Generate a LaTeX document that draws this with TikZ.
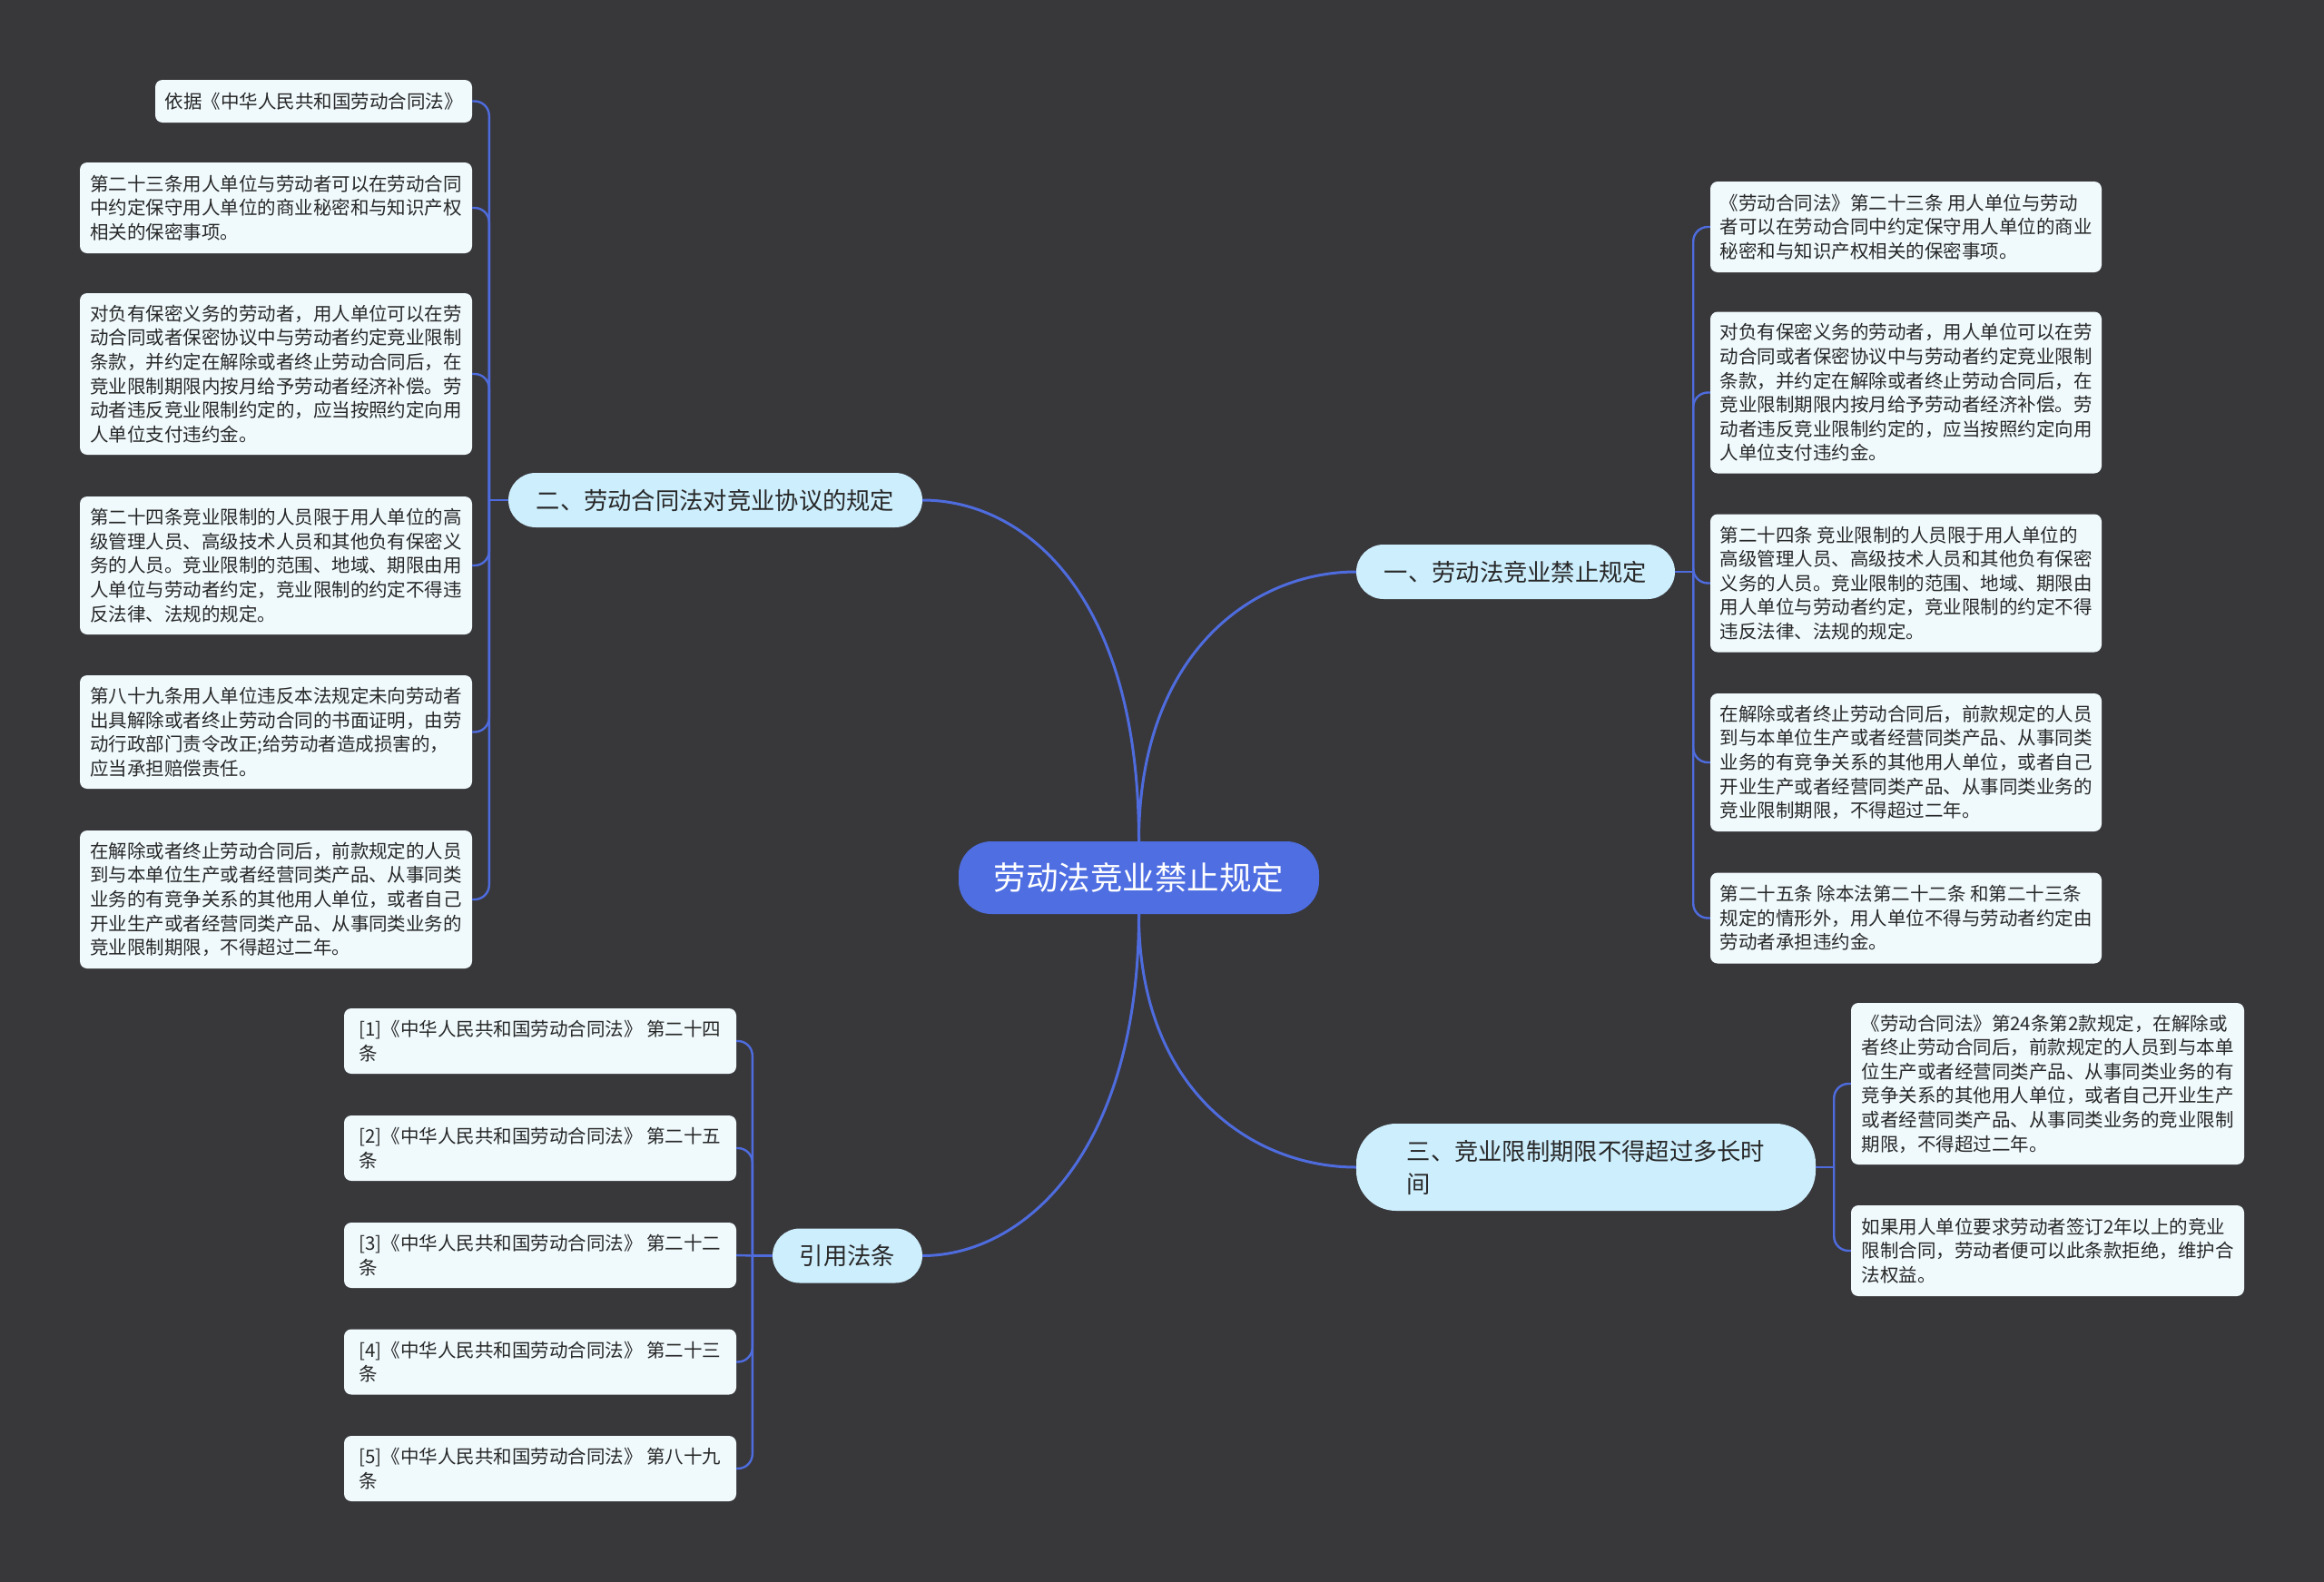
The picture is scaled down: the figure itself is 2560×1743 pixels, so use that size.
\documentclass[tikz,border=0pt]{standalone}
\usepackage{fontspec}
\newfontfamily\cjk{Noto Sans CJK SC}
\definecolor{bgc}{RGB}{56,55,58}
\definecolor{linec}{RGB}{78,108,222}
\definecolor{rootc}{RGB}{78,110,226}
\definecolor{branchc}{RGB}{205,238,253}
\definecolor{leafc}{RGB}{240,250,253}
\definecolor{txt}{RGB}{40,40,40}
\tikzset{
  leafbox/.style={rectangle, rounded corners=8pt, fill=leafc, text=txt, align=left, inner sep=0pt,
    font=\cjk\fontsize{20.5pt}{26.6pt}\selectfont},
  branchbox/.style={rectangle, rounded corners=30pt, fill=branchc, text=txt, align=left, inner sep=0pt,
    font=\cjk\fontsize{26.3pt}{36pt}\selectfont},
  rootbox/.style={rectangle, rounded corners=36pt, fill=rootc, text=white, align=center, inner sep=0pt,
    font=\cjk\fontsize{35.5pt}{42pt}\selectfont},
  mainconn/.style={draw=linec, line width=3pt},
  leafconn/.style={draw=linec, line width=2.4pt},
  bendconn/.style={leafconn, rounded corners=16pt}
}
\begin{document}
\begin{tikzpicture}[x=1pt,y=-1pt]
\fill[bgc] (0,0) rectangle (2560,1743);
\useasboundingbox (0,0) rectangle (2560,1743);

% root and branches
\node[rootbox, minimum width=397pt, minimum height=80pt] (root) at (1254.5,967) {劳动法竞业禁止规定};
\node[branchbox, minimum width=456pt, minimum height=60pt] (b2) at (788,551) {二、劳动合同法对竞业协议的规定};
\node[branchbox, minimum width=351pt, minimum height=60pt] (b1) at (1669.5,630) {一、劳动法竞业禁止规定};
\node[branchbox, rounded corners=44pt, minimum width=506pt, minimum height=96pt] (b3) at (1747,1286) {三、竞业限制期限不得超过多长时\\间};
\node[branchbox, minimum width=165pt, minimum height=60pt] (b4) at (933.5,1383.5) {引用法条};

% left leaves (branch 2)
\node[leafbox, minimum width=349pt, minimum height=47pt] (L1) at (345.5,111.5) {依据《中华人民共和国劳动合同法》};
\node[leafbox, minimum width=432pt, minimum height=100pt] (L2) at (304,229) {第二十三条用人单位与劳动者可以在劳动合同\\中约定保守用人单位的商业秘密和与知识产权\\相关的保密事项。};
\node[leafbox, minimum width=432pt, minimum height=178pt] (L3) at (304,412) {对负有保密义务的劳动者，用人单位可以在劳\\动合同或者保密协议中与劳动者约定竞业限制\\条款，并约定在解除或者终止劳动合同后，在\\竞业限制期限内按月给予劳动者经济补偿。劳\\动者违反竞业限制约定的，应当按照约定向用\\人单位支付违约金。};
\node[leafbox, minimum width=432pt, minimum height=152pt] (L4) at (304,623) {第二十四条竞业限制的人员限于用人单位的高\\级管理人员、高级技术人员和其他负有保密义\\务的人员。竞业限制的范围、地域、期限由用\\人单位与劳动者约定，竞业限制的约定不得违\\反法律、法规的规定。};
\node[leafbox, minimum width=432pt, minimum height=125pt] (L5) at (304,806.5) {第八十九条用人单位违反本法规定未向劳动者\\出具解除或者终止劳动合同的书面证明，由劳\\动行政部门责令改正;给劳动者造成损害的，\\应当承担赔偿责任。};
\node[leafbox, minimum width=432pt, minimum height=152pt] (L6) at (304,991) {在解除或者终止劳动合同后，前款规定的人员\\到与本单位生产或者经营同类产品、从事同类\\业务的有竞争关系的其他用人单位，或者自己\\开业生产或者经营同类产品、从事同类业务的\\竞业限制期限，不得超过二年。};

% right leaves (branch 1)
\node[leafbox, minimum width=431pt, minimum height=100pt] (R1) at (2099.5,250) {《劳动合同法》第二十三条 用人单位与劳动\\者可以在劳动合同中约定保守用人单位的商业\\秘密和与知识产权相关的保密事项。};
\node[leafbox, minimum width=431pt, minimum height=178pt] (R2) at (2099.5,432.5) {对负有保密义务的劳动者，用人单位可以在劳\\动合同或者保密协议中与劳动者约定竞业限制\\条款，并约定在解除或者终止劳动合同后，在\\竞业限制期限内按月给予劳动者经济补偿。劳\\动者违反竞业限制约定的，应当按照约定向用\\人单位支付违约金。};
\node[leafbox, minimum width=431pt, minimum height=152pt] (R3) at (2099.5,642.5) {第二十四条 竞业限制的人员限于用人单位的\\高级管理人员、高级技术人员和其他负有保密\\义务的人员。竞业限制的范围、地域、期限由\\用人单位与劳动者约定，竞业限制的约定不得\\违反法律、法规的规定。};
\node[leafbox, minimum width=431pt, minimum height=152pt] (R4) at (2099.5,840) {在解除或者终止劳动合同后，前款规定的人员\\到与本单位生产或者经营同类产品、从事同类\\业务的有竞争关系的其他用人单位，或者自己\\开业生产或者经营同类产品、从事同类业务的\\竞业限制期限，不得超过二年。};
\node[leafbox, minimum width=431pt, minimum height=100pt] (R5) at (2099.5,1011.5) {第二十五条 除本法第二十二条 和第二十三条\\规定的情形外，用人单位不得与劳动者约定由\\劳动者承担违约金。};

% branch 3 leaves
\node[leafbox, minimum width=433pt, minimum height=178pt] (T1) at (2255.5,1194) {《劳动合同法》第24条第2款规定，在解除或\\者终止劳动合同后，前款规定的人员到与本单\\位生产或者经营同类产品、从事同类业务的有\\竞争关系的其他用人单位，或者自己开业生产\\或者经营同类产品、从事同类业务的竞业限制\\期限，不得超过二年。};
\node[leafbox, minimum width=433pt, minimum height=100pt] (T2) at (2255.5,1378) {如果用人单位要求劳动者签订2年以上的竞业\\限制合同，劳动者便可以此条款拒绝，维护合\\法权益。};

% citations
\node[leafbox, minimum width=432pt, minimum height=72pt] (C1) at (595,1147) {[1]《中华人民共和国劳动合同法》 第二十四\\条};
\node[leafbox, minimum width=432pt, minimum height=72pt] (C2) at (595,1265) {[2]《中华人民共和国劳动合同法》 第二十五\\条};
\node[leafbox, minimum width=432pt, minimum height=72pt] (C3) at (595,1383) {[3]《中华人民共和国劳动合同法》 第二十二\\条};
\node[leafbox, minimum width=432pt, minimum height=72pt] (C4) at (595,1500.5) {[4]《中华人民共和国劳动合同法》 第二十三\\条};
\node[leafbox, minimum width=432pt, minimum height=72pt] (C5) at (595,1618) {[5]《中华人民共和国劳动合同法》 第八十九\\条};

% main connectors
\draw[mainconn] (root.north) .. controls +(0,-274) and +(111,0) .. (b2.east);
\draw[mainconn] (root.north) .. controls +(0,-208) and +(-113,0) .. (b1.west);
\draw[mainconn] (root.south) .. controls +(0,195) and +(-113,0) .. (b3.west);
\draw[mainconn] (root.south) .. controls +(0,263) and +(111,0) .. (b4.east);

% trunk points
\coordinate (t2) at ([xshift=-21pt]b2.west);
\coordinate (t1) at ([xshift=20pt]b1.east);
\coordinate (t3) at ([xshift=20pt]b3.east);
\coordinate (t4) at ([xshift=-22pt]b4.west);

\draw[leafconn] (b2.west) -- (t2);
\foreach \c in {L1,L2,L3,L4,L5,L6} \draw[bendconn] (t2) |- (\c.east);
\draw[leafconn] (b1.east) -- (t1);
\foreach \c in {R1,R2,R3,R4,R5} \draw[bendconn] (t1) |- (\c.west);
\draw[leafconn] (b3.east) -- (t3);
\foreach \c in {T1,T2} \draw[bendconn] (t3) |- (\c.west);
\draw[leafconn] (b4.west) -- (t4);
\foreach \c in {C1,C2,C4,C5} \draw[bendconn] (t4) |- (\c.east);
\draw[leafconn] (t4) -- (C3.east);
\end{tikzpicture}
\end{document}
